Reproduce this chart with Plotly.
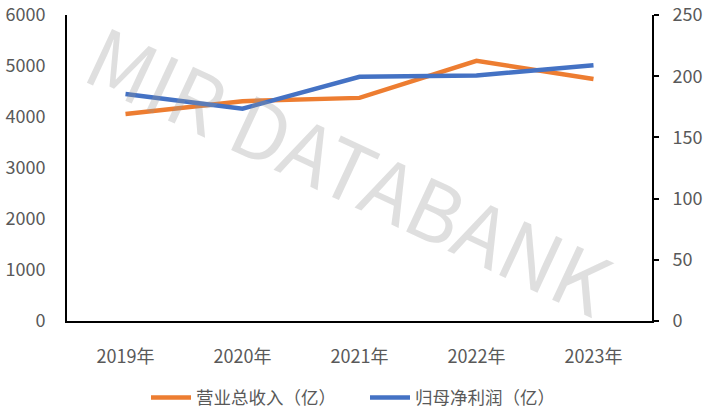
import plotly.graph_objects as go

years = ["2019年", "2020年", "2021年", "2022年", "2023年"]
revenue = [4060, 4310, 4375, 5100, 4745]
profit = [185.5, 173.5, 199.5, 200.5, 209.0]
left_ticks = [0, 1000, 2000, 3000, 4000, 5000, 6000]
right_ticks = [0, 50, 100, 150, 200, 250]

FONT = "Noto Sans CJK SC"
GRAY = "#595959"

fig = go.Figure()
fig.add_trace(go.Scatter(x=years, y=revenue, name="营业总收入（亿）", mode="lines",
                         line=dict(color="#ED7D31", width=4.5), yaxis="y",
                         legend="legend"))
fig.add_trace(go.Scatter(x=years, y=profit, name="归母净利润（亿）", mode="lines",
                         line=dict(color="#4472C4", width=4.5), yaxis="y2",
                         legend="legend2"))

fig.add_annotation(text="MIR DATABANK", xref="paper", yref="paper", x=0.485, y=0.505,
                   showarrow=False, textangle=25,
                   font=dict(family=FONT, size=81, color="rgba(150,150,150,0.3)"))

leg_common = dict(orientation="h", y=-0.25, yanchor="middle", xanchor="left",
                  font=dict(size=17.5, color=GRAY), itemwidth=40,
                  bgcolor="rgba(0,0,0,0)")

fig.update_layout(
    width=710, height=417,
    margin=dict(l=67, r=58, t=15, b=96, autoexpand=False),
    paper_bgcolor="white", plot_bgcolor="white",
    font=dict(family=FONT, size=18, color=GRAY),
    showlegend=True,
    legend=dict(x=(146 - 67) / 585, **leg_common),
    legend2=dict(x=(365 - 67) / 585, **leg_common),
    xaxis=dict(type="category", range=[-0.5, 4.5], showline=True, linecolor="black",
               linewidth=2, showgrid=False, ticks="", ticklabelstandoff=18,
               zeroline=False),
    yaxis=dict(range=[0, 6000], tickvals=left_ticks, showline=True, linecolor="black",
               linewidth=2, showgrid=False, zeroline=False, ticks="",
               ticklabelstandoff=16),
    yaxis2=dict(range=[0, 250], tickvals=right_ticks, overlaying="y", side="right",
                showline=True, linecolor="black", linewidth=2, showgrid=False,
                zeroline=False, ticks="outside", ticklen=5, tickwidth=2,
                tickcolor="black", ticklabelstandoff=10),
)

fig.write_html("out.html")
